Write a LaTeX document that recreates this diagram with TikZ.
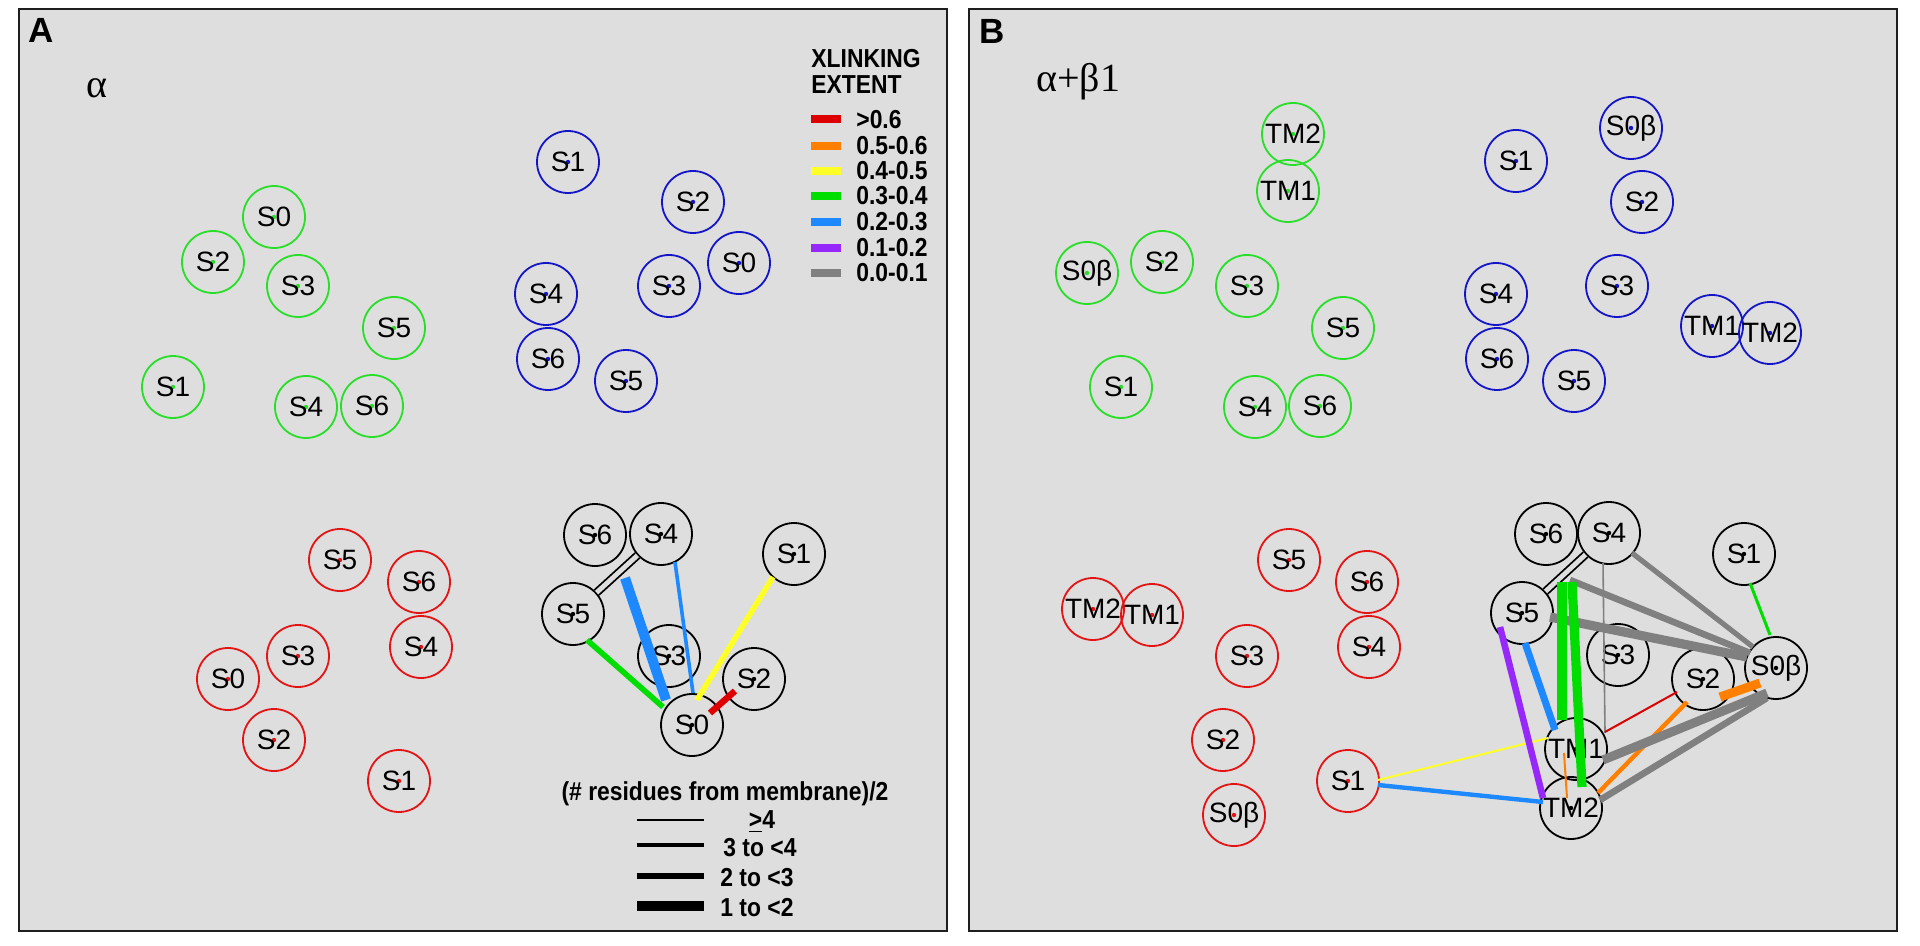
\documentclass[tikz,border=0pt]{standalone}
\usepackage{fontspec}
\setmainfont{Liberation Sans}
\newfontfamily\grfont{Liberation Serif}
\newfontfamily\legfont[FakeStretch=0.88]{Liberation Sans}
\usetikzlibrary{calc}
\definecolor{bgc}{RGB}{222,222,222}
\definecolor{cgreen}{RGB}{40,222,40}
\definecolor{cblue}{RGB}{20,20,200}
\definecolor{cred}{RGB}{228,20,20}
\definecolor{lred}{RGB}{220,0,0}
\definecolor{lorange}{RGB}{255,128,0}
\definecolor{lyellow}{RGB}{255,255,40}
\definecolor{lgreen}{RGB}{0,222,0}
\definecolor{lblue}{RGB}{30,136,255}
\definecolor{lpurple}{RGB}{150,40,250}
\definecolor{lgray}{RGB}{128,128,128}
\definecolor{framec}{RGB}{30,30,30}
\tikzset{
  nd/.style={circle, draw, line width=0.9pt, minimum size=31pt, inner sep=0pt, font=\fontsize{14pt}{16pt}\selectfont},
  gn/.style={nd, draw=cgreen, path picture={\fill[cgreen] (path picture bounding box.center) circle[radius=1.1pt];}},
  bn/.style={nd, draw=cblue, path picture={\fill[cblue] (path picture bounding box.center) circle[radius=1.1pt];}},
  rn/.style={nd, draw=cred, path picture={\fill[cred] (path picture bounding box.center) circle[radius=1.1pt];}},
  kn/.style={nd, draw=black, path picture={\fill[black] (path picture bounding box.center) circle[radius=1.1pt];}},
  panel/.style={fill=bgc, draw=framec, line width=1pt},
  plabel/.style={font=\bfseries\fontsize{17.5pt}{20pt}\selectfont, inner sep=0pt},
  glabel/.style={font=\grfont\fontsize{20pt}{22pt}\selectfont, inner sep=0pt, anchor=base west},
  legtxt/.style={font=\legfont\bfseries\fontsize{13pt}{15pt}\selectfont, inner sep=0pt},
  dbl/.style={double=bgc, double distance=2.4pt, line width=0.9pt, draw=black},
}
\begin{document}
\begin{tikzpicture}[x=0.5pt, y=-0.5pt]
\useasboundingbox[fill=white] (0,0) rectangle (1920,946);
% panels
\draw[panel] (19,9) rectangle (947,931);
\draw[panel] (969,9) rectangle (1897,931);
\node[plabel] (labA) at (41.5,30.5) {A};
\node[plabel] (labB) at (992,31) {B};
\node[glabel] (alA) at (86,98) {α};
\node[glabel] (alB) at (1036,92) {α+β1};

% ---------- Panel A ----------
\node[gn] (aG0) at (274,217) {S0};
\node[gn] (aG2) at (213,262) {S2};
\node[gn] (aG3) at (298,286) {S3};
\node[gn] (aG5) at (394,328) {S5};
\node[gn] (aG1) at (173,387) {S1};
\node[gn] (aG4) at (306,407) {S4};
\node[gn] (aG6) at (372,406) {S6};

\node[bn] (aB1) at (568,162) {S1};
\node[bn] (aB2) at (693,202) {S2};
\node[bn] (aB0) at (739,263) {S0};
\node[bn] (aB3) at (669,286) {S3};
\node[bn] (aB4) at (546,294) {S4};
\node[bn] (aB6) at (548,359) {S6};
\node[bn] (aB5) at (626,381) {S5};

\node[rn] (aR5) at (340,560) {S5};
\node[rn] (aR6) at (419,582) {S6};
\node[rn] (aR3) at (298,656) {S3};
\node[rn] (aR4) at (421,647) {S4};
\node[rn] (aR0) at (228,679) {S0};
\node[rn] (aR2) at (274,740) {S2};
\node[rn] (aR1) at (399,781) {S1};

\node[kn] (aK6) at (595,535) {S6};
\node[kn] (aK4) at (661,534) {S4};
\node[kn] (aK1) at (794,554) {S1};
\node[kn] (aK5) at (573,614) {S5};
\node[kn] (aK3) at (669,656) {S3};
\node[kn] (aK2) at (754,679) {S2};
\node[kn] (aK0) at (692,725) {S0};

\coordinate (LA) at (625,578);
\draw[dbl] (aK4) -- (aK5);
\draw[lblue, line width=5pt] (LA) -- ($(aK0)+(-26,-25)$);
\draw[lblue, line width=1.8pt] ($(aK4)+(14,28)$) -- ($(aK0)+(1,-32)$);
\draw[lgreen, line width=2.8pt] ($(aK5)+(14,26)$) -- ($(aK0)+(-29,-18)$);
\draw[lyellow, line width=2.8pt] ($(aK1)+(-21,23)$) -- ($(aK0)+(5,-25)$);
\draw[lred, line width=3.2pt] ($(aK2)+(-19,12)$) -- ($(aK0)+(18,-12)$);

% legend colours
\node[legtxt, anchor=west] (lx1) at (811,59) {XLINKING};
\node[legtxt, anchor=west] (lx2) at (811,85) {EXTENT};
\fill[lred] (811,115.5) rectangle (841,123.5);
\fill[lorange] (811,142) rectangle (841,150);
\fill[lyellow] (811,167) rectangle (841,175);
\fill[lgreen] (811,192) rectangle (841,200);
\fill[lblue] (811,218) rectangle (841,226);
\fill[lpurple] (811,244) rectangle (841,252);
\fill[lgray] (811,269) rectangle (841,277);
\node[legtxt, anchor=west] (lc1) at (856,120) {>0.6};
\node[legtxt, anchor=west] (lc2) at (856,146) {0.5-0.6};
\node[legtxt, anchor=west] (lc3) at (856,171) {0.4-0.5};
\node[legtxt, anchor=west] (lc4) at (856,196) {0.3-0.4};
\node[legtxt, anchor=west] (lc5) at (856,222) {0.2-0.3};
\node[legtxt, anchor=west] (lc6) at (856,248) {0.1-0.2};
\node[legtxt, anchor=west] (lc7) at (856,273) {0.0-0.1};

% legend widths
\node[legtxt] (lw0) at (725,794) {(\# residues from membrane)/2};
\draw[line width=1.15pt] (637,820) -- (704,820);
\draw[line width=2.35pt] (637,845) -- (704,845);
\draw[line width=3.35pt] (637,876) -- (704,876);
\draw[line width=4.65pt] (637,906) -- (704,906);
\node[legtxt] (lw1) at (762,822) {\underline{>}4};
\node[legtxt, anchor=west] (lw2) at (723,848) {3 to <4};
\node[legtxt, anchor=west] (lw3) at (720,878) {2 to <3};
\node[legtxt, anchor=west] (lw4) at (720,908) {1 to <2};

% ---------- Panel B ----------
\node[gn] (bGT2) at (1293,134) {TM2};
\node[gn] (bGT1) at (1288,191) {TM1};
\node[gn] (bG0) at (1087,273) {S0β};
\node[gn] (bG2) at (1162,262) {S2};
\node[gn] (bG3) at (1247,286) {S3};
\node[gn] (bG5) at (1343,328) {S5};
\node[gn] (bG1) at (1121,387) {S1};
\node[gn] (bG4) at (1255,407) {S4};
\node[gn] (bG6) at (1320,406) {S6};

\node[bn] (bB0) at (1631,128) {S0β};
\node[bn] (bB1) at (1516,161) {S1};
\node[bn] (bB2) at (1642,202) {S2};
\node[bn] (bB4) at (1496,294) {S4};
\node[bn] (bB3) at (1617,286) {S3};
\node[bn] (bBT1) at (1712,326) {TM1};
\node[bn] (bBT2) at (1770,333) {TM2};
\node[bn] (bB6) at (1497,359) {S6};
\node[bn] (bB5) at (1574,381) {S5};

\node[rn] (bRT2) at (1093,609) {TM2};
\node[rn] (bRT1) at (1152,615) {TM1};
\node[rn] (bR5) at (1289,560) {S5};
\node[rn] (bR6) at (1367,582) {S6};
\node[rn] (bR3) at (1247,656) {S3};
\node[rn] (bR4) at (1369,647) {S4};
\node[rn] (bR2) at (1223,740) {S2};
\node[rn] (bR1) at (1348,781) {S1};
\node[rn] (bR0) at (1234,815) {S0β};

\node[kn] (bK6) at (1546,534) {S6};
\node[kn] (bK4) at (1609,533) {S4};
\node[kn] (bK1) at (1744,554) {S1};
\node[kn] (bK5) at (1522,613) {S5};
\node[kn] (bK3) at (1618,655) {S3};
\node[kn] (bK2) at (1703,679) {S2};
\node[kn] (bK0) at (1776,668) {S0β};
\node[kn] (bKT1) at (1576,749) {TM1};
\node[kn] (bKT2) at (1571,808) {TM2};

\coordinate (LB) at (1567,580);
\draw[dbl] (bK4) -- (bK5);
\draw[lgray, line width=0.8pt] ($(bK4)+(-6,30)$) -- ($(bKT1)+(29,-16)$);
\draw[lgray, line width=2.6pt] ($(bK4)+(23,20)$) -- ($(bK0)+(-23,-21)$);
\draw[lgray, line width=3.3pt] ($(LB)+(3,0)$) -- ($(bK0)+(-26,-15)$);
\draw[lgray, line width=4.6pt] ($(bK5)+(28,4)$) -- ($(bK0)+(-29,-11)$);
\draw[lyellow, line width=1pt] ($(bR1)+(30,-1)$) -- ($(bKT1)+(-28,-11)$);
\draw[lblue, line width=2.2pt] ($(bR1)+(30,4)$) -- ($(bKT2)+(-28,-6)$);
\draw[lred, line width=1pt] ($(bKT1)+(29,-17)$) -- ($(bK2)+(-26,13)$);
\draw[lorange, line width=2.2pt] ($(bKT2)+(27,-15)$) -- ($(bK2)+(-16,23)$);
\draw[lorange, line width=1pt] ($(bKT1)+(-12,4)$) -- ($(bKT2)+(-4,-10)$);
\draw[lgray, line width=4.5pt] ($(bKT1)+(27,11)$) -- ($(bK0)+(-9,25)$);
\draw[lgray, line width=3.3pt] ($(bKT2)+(29,-8)$) -- ($(bK0)+(-9,30)$);
\draw[lorange, line width=4.5pt] ($(bK2)+(17,18)$) -- ($(bK0)+(-16,15)$);
\draw[lgreen, line width=4.6pt] ($(LB)+(-5,2)$) -- ($(bKT1)+(-14,-29)$);
\draw[lgreen, line width=4.6pt] ($(LB)+(5,2)$) -- ($(bKT2)+(11,-21)$);
\draw[lblue, line width=3.5pt] ($(bK5)+(3,30)$) -- ($(bKT1)+(-21,-19)$);
\draw[lpurple, line width=3.3pt] ($(bK5)+(-22,14)$) -- ($(bKT2)+(-28,-10)$);
\draw[lgreen, line width=1.5pt] ($(bK1)+(6,29)$) -- ($(bK0)+(-6,-33)$);
\end{tikzpicture}
\end{document}
